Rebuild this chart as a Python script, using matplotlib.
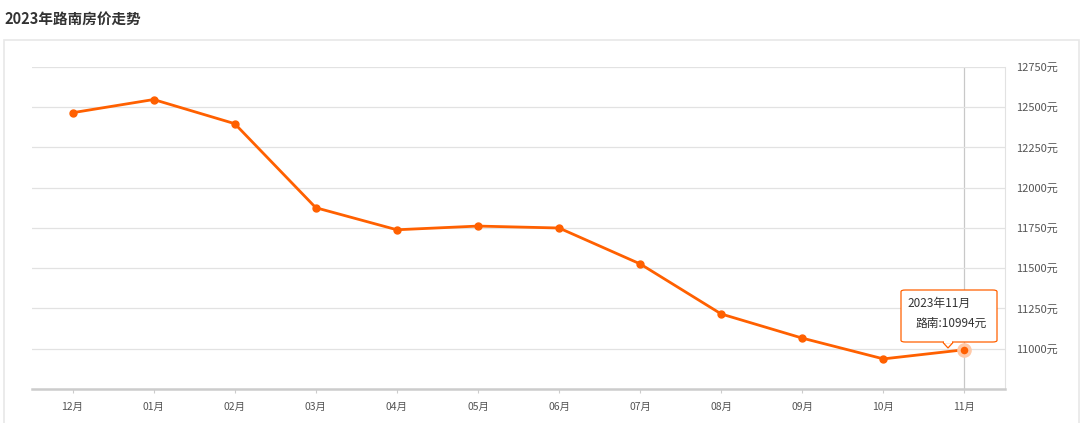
import matplotlib.pyplot as plt
from matplotlib.patches import Rectangle, FancyBboxPatch, Polygon

plt.rcParams['font.family'] = ['Noto Sans CJK SC', 'DejaVu Sans']

# datos
meses = ['12月', '01月', '02月', '03月', '04月', '05月', '06月', '07月', '08月', '09月', '10月', '11月']
precios = [12466, 12548, 12398, 11876, 11739, 11762, 11750, 11527, 11216, 11066, 10937, 10994]
yticks = [11000, 11250, 11500, 11750, 12000, 12250, 12500, 12750]

W, H = 1080, 423
naranja = '#ff6000'

fig = plt.figure(figsize=(W / 100, H / 100), dpi=100)

# titulo y marco exterior
fig.text(4 / W, 1 - 19 / H, '2023年路南房价走势', fontsize=10.5, fontweight='bold',
         color='#333333', va='center', ha='left')
fig.patches.append(Rectangle((4 / W, -0.01), (W - 5) / W, (H - 40) / H + 0.01,
                             transform=fig.transFigure, fill=False,
                             edgecolor='#e8e8e8', linewidth=1.2))

ax = fig.add_axes([32 / W, 34 / H, (1005 - 32) / W, (389 - 67) / H])
x = list(range(len(meses)))

ax.plot(x, precios, color=naranja, linewidth=2, marker='o', markersize=5, zorder=3)
# punto resaltado
ax.plot(x[-1], precios[-1], 'o', color=naranja, markersize=8, zorder=4,
        markeredgecolor='#ffc9a8', markeredgewidth=2.5)
ax.axvline(x[-1], color='#c8c8c8', linewidth=0.9, zorder=1)

ax.set_xlim(-0.5, len(meses) - 0.5)
ax.set_ylim(10750, 12750)
ax.set_xticks(x)
ax.set_xticklabels(meses, fontsize=7.5, color='#555555')
ax.set_yticks(yticks)
ax.set_yticklabels([f'{v}元' for v in yticks], fontsize=8, color='#555555')
ax.yaxis.tick_right()
ax.tick_params(axis='y', length=0, pad=8)
ax.tick_params(axis='x', length=3, color='#cccccc', pad=6)
ax.grid(axis='y', color='#e2e2e2', linewidth=0.9)

for s in ['top', 'left']:
    ax.spines[s].set_visible(False)
ax.spines['right'].set_color('#e2e2e2')
ax.spines['bottom'].set_color('#cccccc')
ax.spines['bottom'].set_linewidth(1.8)

# tooltip
caja = FancyBboxPatch((901 / W, (H - 342) / H), 96 / W, 52 / H,
                      boxstyle='round,pad=0,rounding_size=0.004',
                      transform=fig.transFigure, facecolor='white',
                      edgecolor=naranja, linewidth=0.9, zorder=5)
fig.patches.append(caja)
fig.patches.append(Polygon([(943 / W, (H - 342.5) / H), (953 / W, (H - 342.5) / H),
                            (948 / W, (H - 348) / H)], closed=True,
                           transform=fig.transFigure, facecolor='white',
                           edgecolor=naranja, linewidth=0.9, zorder=6))
fig.patches.append(Rectangle((943.8 / W, (H - 343) / H), 8.4 / W, 2 / H,
                             transform=fig.transFigure, facecolor='white',
                             edgecolor='none', zorder=7))
fig.text(907 / W, (H - 303) / H, '2023年11月', fontsize=8.5, color='#333333',
         va='center', ha='left', zorder=8)
fig.text(916 / W, (H - 323) / H, '路南:10994元', fontsize=8.5, color='#333333',
         va='center', ha='left', zorder=8)

plt.savefig('out.png', dpi=100)
plt.close()
